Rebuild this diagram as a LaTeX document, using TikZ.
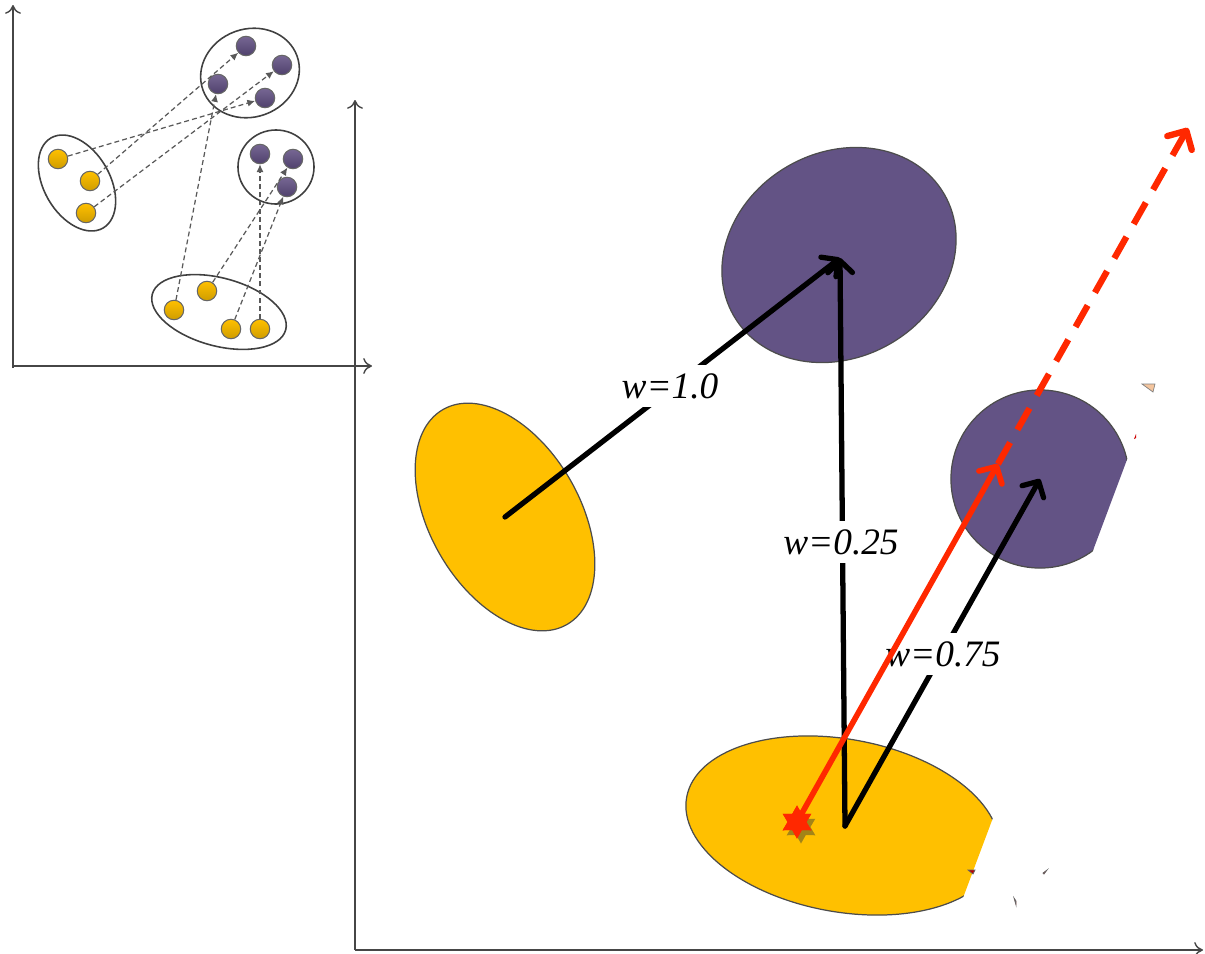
\documentclass[tikz,border=0pt]{standalone}
\usepackage{fontspec}
\setmainfont{Liberation Serif}
\usetikzlibrary{arrows.meta,shapes.geometric}
\definecolor{purp}{RGB}{99,83,133}
\definecolor{purpdot}{RGB}{94,76,128}
\definecolor{gold}{RGB}{255,192,0}
\definecolor{golddot}{RGB}{243,184,0}
\definecolor{redo}{RGB}{255,40,0}
\definecolor{axisgray}{RGB}{70,70,70}
\definecolor{peach}{RGB}{244,197,158}
\begin{document}
\begin{tikzpicture}[x=0.01cm,y=-0.01cm,
  axis/.style={draw=axisgray, line width=0.4pt, -{To[length=2.5pt,width=4.5pt]}},
  grp/.style={draw=black!75, line width=0.45pt},
  ydot/.style={circle, draw=black!60, line width=0.3pt, top color=gold, bottom color=golddot!85!black, minimum size=0.195cm, inner sep=0pt},
  pdot/.style={circle, draw=black!60, line width=0.3pt, top color=purpdot!85!white, bottom color=purpdot!85!black, minimum size=0.195cm, inner sep=0pt},
  dlink/.style={draw=black!65, line width=0.35pt, dash pattern=on 1.4pt off 0.9pt, -{Latex[length=2.2pt,width=2pt]}},
  blob/.style={draw=black!70, line width=0.35pt},
  wline/.style={draw=black, line width=1.5pt, line cap=round},
  warrow/.style={wline, -{Straight Barb[length=3.4pt,width=7pt,round]}},
  rline/.style={draw=redo, line width=1.6pt, -{Straight Barb[length=3.6pt,width=7.5pt,round]}},
  rdash/.style={draw=redo, line width=1.8pt, dash pattern=on 7pt off 4.2pt, -{Straight Barb[length=4pt,width=8pt,round]}},
  starshape/.style={star, star points=6, star point ratio=1.75, minimum size=0.33cm, inner sep=0pt},
  lbl/.style={fill=white, inner sep=2.4pt, font=\itshape\fontsize{10.6pt}{12pt}\selectfont}
]
\useasboundingbox (0,0) rectangle (1205,954);

% ---------- inset ----------
\coordinate (ia0) at (13,366);
\coordinate (iax) at (372,366);
\coordinate (iay) at (13,5);
\draw[axis] (ia0) -- (iax);
\draw[axis] (13,368) -- (iay);

\draw[grp, rotate around={20:(250,73)}] (250,73) ellipse [x radius=0.50cm, y radius=0.44cm];
\draw[grp] (276,167) ellipse [x radius=0.38cm, y radius=0.37cm];
\draw[grp, rotate around={-60:(77,183)}] (77,183) ellipse [x radius=0.52cm, y radius=0.33cm];
\draw[grp, rotate around={-15:(219,312)}] (219,312) ellipse [x radius=0.69cm, y radius=0.34cm];

\node[pdot] (p1) at (246,46) {};
\node[pdot] (p2) at (282,65) {};
\node[pdot] (p3) at (218,84) {};
\node[pdot] (p4) at (265,98) {};
\node[pdot] (p5) at (260,154) {};
\node[pdot] (p6) at (293,159) {};
\node[pdot] (p7) at (287,187) {};

\node[ydot] (y1) at (58,159) {};
\node[ydot] (y2) at (90,181) {};
\node[ydot] (y3) at (86,213) {};
\node[ydot] (y4) at (174,310) {};
\node[ydot] (y5) at (207,291) {};
\node[ydot] (y6) at (231,329) {};
\node[ydot] (y7) at (260,329) {};

\draw[dlink] (y1) -- (p4);
\draw[dlink] (y2) -- (p1);
\draw[dlink] (y3) -- (p2);
\draw[dlink] (y4) -- (p3);
\draw[dlink] (y5) -- (p6);
\draw[dlink] (y6) -- (p7);
\draw[dlink] (y7) -- (p5);

% ---------- main plot ----------
\coordinate (ma0) at (355,950);
\coordinate (max) at (1203,950);
\coordinate (may) at (355,100);
\draw[axis] (ma0) -- (max);
\draw[axis] (ma0) -- (may);

\draw[blob, fill=purp, rotate around={30:(839,255)}] (839,255) ellipse [x radius=1.215cm, y radius=1.024cm];
\draw[blob, fill=gold, rotate around={-60:(505,517)}] (505,517) ellipse [x radius=1.24cm, y radius=0.75cm];
\begin{scope}
  \clip (0,0) -- (1299,0) -- (942,954) -- (0,954) -- cycle;
  \draw[blob, fill=purp] (1040,479) circle [radius=0.89cm];
  \draw[blob, fill=gold, rotate around={-10.3:(842.5,825.5)}] (842.5,825.5) ellipse [x radius=1.583cm, y radius=0.863cm];
\end{scope}

% small remnants at the cut edge
\filldraw[fill=peach, draw=black!50, line width=0.2pt] (1142,384) -- (1155,384) -- (1153,392) -- cycle;
\fill[red!80!black] (1134,439) -- (1136,434) -- (1136,438) -- cycle;
\filldraw[fill=red!75!black, draw=black!60, line width=0.2pt] (968,870) -- (975,870) -- (973,874) -- cycle;
\filldraw[fill=red!75!black, draw=black!60, line width=0.2pt] (1043,873) -- (1047,870) -- (1044,874) -- cycle;
\filldraw[fill=red!75!black, draw=black!60, line width=0.2pt] (1014,898) -- (1016,901) -- (1016,905) -- cycle;

\coordinate (Yl) at (505,517);
\coordinate (Pt) at (840,258);
\coordinate (Yb) at (845,826);
\coordinate (Pr) at (1040,479);
\coordinate (Rm) at (998,464);
\coordinate (Re) at (1188,128);

\draw[warrow] (Yl) -- (Pt);
\draw[warrow] (Yb) -- (Pt);
\draw[warrow] (Yb) -- (Pr);

\node[lbl] (l1) at (670,386) {w=1.0};
\node[lbl] (l2) at (841,542) {w=0.25};
\node[lbl] (l3) at (943,654) {w=0.75};

% red star with shadow
\node[starshape, fill=black!50!olive, opacity=0.55] (sh) at (801,827) {};
\node[starshape, fill=redo] (st) at (797,822) {};

\draw[rline] (st.center) -- (Rm);
\draw[rdash] (Rm) -- (Re);
\node[starshape, fill=redo] at (st) {};
\end{tikzpicture}
\end{document}
